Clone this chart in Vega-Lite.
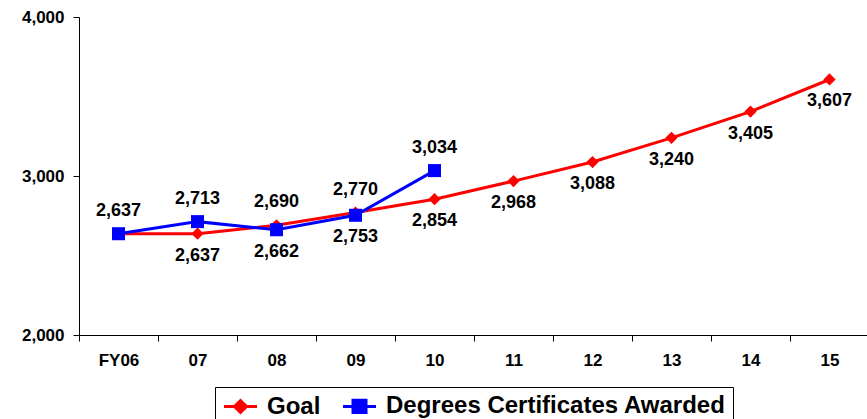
{
  "$schema": "https://vega.github.io/schema/vega-lite/v6.json",
  "autosize": {"type": "none"},
  "width": 790,
  "height": 318,
  "padding": {"left": 79, "top": 17, "right": 0, "bottom": 84},
  "background": "white",
  "config": {
    "view": {"stroke": null},
    "font": "Liberation Sans"
  },
  "data": {
    "values": [
      {"series": "Goal", "year": "FY06", "value": 2637},
      {"series": "Goal", "year": "07", "value": 2637},
      {"series": "Goal", "year": "08", "value": 2690},
      {"series": "Goal", "year": "09", "value": 2770},
      {"series": "Goal", "year": "10", "value": 2854},
      {"series": "Goal", "year": "11", "value": 2968},
      {"series": "Goal", "year": "12", "value": 3088},
      {"series": "Goal", "year": "13", "value": 3240},
      {"series": "Goal", "year": "14", "value": 3405},
      {"series": "Goal", "year": "15", "value": 3607},
      {"series": "Degrees Certificates Awarded", "year": "FY06", "value": 2637},
      {"series": "Degrees Certificates Awarded", "year": "07", "value": 2713},
      {"series": "Degrees Certificates Awarded", "year": "08", "value": 2662},
      {"series": "Degrees Certificates Awarded", "year": "09", "value": 2753},
      {"series": "Degrees Certificates Awarded", "year": "10", "value": 3034}
    ]
  },
  "encoding": {
    "x": {
      "field": "year", "type": "nominal", "sort": null, "bandPosition": 0.5,
      "scale": {"type": "band", "paddingInner": 0, "paddingOuter": 0,
        "domain": ["FY06", "07", "08", "09", "10", "11", "12", "13", "14", "15"]},
      "axis": {
        "title": null, "tickBand": "extent", "labelAngle": 0,
        "domainColor": "black", "domainWidth": 1, "tickColor": "black", "tickSize": 6,
        "labelFontSize": 17, "labelFontWeight": "bold", "labelColor": "black", "labelPadding": 11
      }
    },
    "y": {
      "field": "value", "type": "quantitative",
      "scale": {"domain": [2000, 4000], "nice": false, "zero": false},
      "axis": {
        "title": null, "values": [2000, 3000, 4000], "format": ",.0f", "grid": false,
        "domainColor": "black", "tickColor": "black", "tickSize": 6,
        "labelFontSize": 17, "labelFontWeight": "bold", "labelColor": "black", "labelPadding": 9
      }
    }
  },
  "layer": [
    {
      "mark": {"type": "line", "strokeWidth": 3},
      "encoding": {
        "color": {"field": "series", "type": "nominal",
          "scale": {"domain": ["Goal", "Degrees Certificates Awarded"], "range": ["#ff0000", "#0000ff"]},
          "legend": {
            "title": null, "orient": "none", "legendX": 136, "legendY": 370,
            "direction": "horizontal", "columns": 2,
            "strokeColor": "black", "padding": 7, "cornerRadius": 0, "fillColor": "white",
            "labelFontSize": 24, "labelFontWeight": "bold", "labelColor": "black", "labelLimit": 600,
            "labelOffset": 21, "columnPadding": 16, "symbolSize": 400,
            "symbolStrokeWidth": 3,
            "encode": {
              "symbols": {
                "update": {
                  "shape": {"signal": "datum.value === 'Goal' ? 'M-1,0H2.3M0.05,0L0.65,-0.6L1.25,0L0.65,0.6Z' : 'M-1,0H2.3M0,-0.62H1.3V0.62H0Z'"},
                  "fill": {"signal": "datum.value === 'Goal' ? '#ff0000' : '#0000ff'"},
                  "stroke": {"signal": "datum.value === 'Goal' ? '#ff0000' : '#0000ff'"},
                  "strokeWidth": {"value": 3},
                  "opacity": {"value": 1}
                }
              }
            }
          }},
        "order": {"value": null},
        "detail": {"field": "series"}
      }
    },
    {
      "transform": [{"filter": "datum.series === 'Goal'"}],
      "mark": {"type": "point", "filled": true, "opacity": 1, "shape": "diamond", "size": 150},
      "encoding": {
        "color": {"field": "series", "type": "nominal",
          "scale": {"domain": ["Goal", "Degrees Certificates Awarded"], "range": ["#ff0000", "#0000ff"]}}
      }
    },
    {
      "transform": [{"filter": "datum.series !== 'Goal'"}],
      "mark": {"type": "point", "filled": true, "opacity": 1, "shape": "square", "size": 170},
      "encoding": {
        "color": {"field": "series", "type": "nominal",
          "scale": {"domain": ["Goal", "Degrees Certificates Awarded"], "range": ["#ff0000", "#0000ff"]}}
      }
    },
    {
      "transform": [{"filter": "(datum.series === 'Degrees Certificates Awarded' && (datum.year === 'FY06' || datum.year === '07' || datum.year === '10')) || (datum.series === 'Goal' && (datum.year === '08' || datum.year === '09'))"}],
      "mark": {"type": "text", "dy": -23, "fontSize": 18, "fontWeight": "bold", "color": "black"},
      "encoding": {"text": {"field": "value", "type": "quantitative", "format": ","}}
    },
    {
      "transform": [{"filter": "(datum.series === 'Degrees Certificates Awarded' && (datum.year === '08' || datum.year === '09')) || (datum.series === 'Goal' && datum.year !== 'FY06' && datum.year !== '08' && datum.year !== '09')"}],
      "mark": {"type": "text", "dy": 22, "fontSize": 18, "fontWeight": "bold", "color": "black"},
      "encoding": {"text": {"field": "value", "type": "quantitative", "format": ","}}
    }
  ]
}
